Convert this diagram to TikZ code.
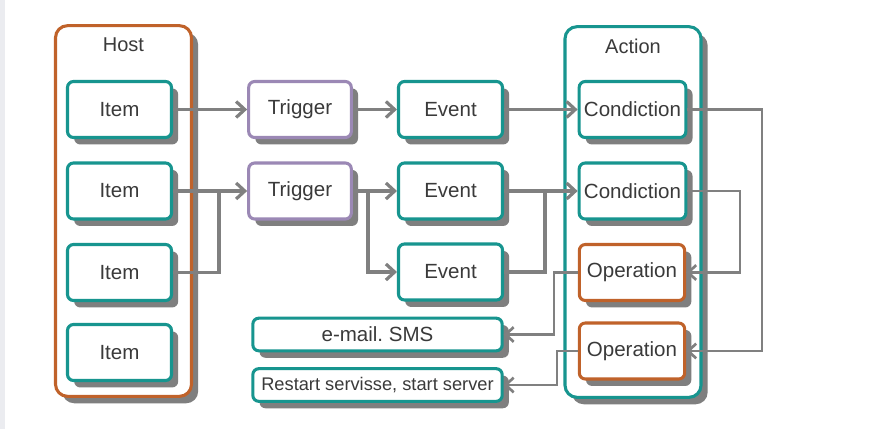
\documentclass[tikz,border=0pt]{standalone}
\usepackage{fontspec}
\setmainfont{Liberation Sans}
\usetikzlibrary{arrows.meta,shadows}
\definecolor{teal1}{HTML}{17958F}
\definecolor{orng}{HTML}{C0622A}
\definecolor{purp}{HTML}{9B88B5}
\definecolor{shd}{HTML}{7F7F7F}
\definecolor{conn}{HTML}{808080}
\definecolor{txt}{HTML}{3A3A3A}
\definecolor{strip}{HTML}{EBECF0}
\frenchspacing
\tikzset{
  box/.style={draw=teal1, line width=2.3pt, fill=white, rounded corners=4.5pt,
    text=txt, font=\fontsize{15.4}{18}\selectfont, inner sep=0pt,
    drop shadow={shadow xshift=5pt, shadow yshift=-5.2pt, fill=shd, opacity=1}},
  tealbox/.style={box, minimum width=78pt, minimum height=42pt},
  trigbox/.style={box, draw=purp, minimum width=77pt, minimum height=42pt},
  opbox/.style={box, draw=orng, minimum width=79pt, minimum height=42pt},
  widebox/.style={box, minimum width=187pt, minimum height=24.5pt},
  container/.style={draw=#1, line width=2.3pt, fill=white, rounded corners=9pt,
    minimum width=102pt, minimum height=278pt, inner sep=0pt,
    drop shadow={shadow xshift=5pt, shadow yshift=-5.2pt, fill=shd, opacity=1}},
  title/.style={text=txt, font=\fontsize{15}{18}\selectfont, inner sep=0pt},
  arr/.style={draw=conn, line width=2.6pt, -{Straight Barb[length=6.5pt, width=12pt, line width=2.4pt]}},
  ln/.style={draw=conn, line width=2.6pt},
  arrthin/.style={draw=conn, line width=2.1pt, -{Straight Barb[length=6pt, width=11pt, line width=2pt]}},
}
\begin{document}
\begin{tikzpicture}[x=0.75pt, y=-0.75pt]
\useasboundingbox (0,0) rectangle (878,429);
\fill[white] (0,0) rectangle (878,429);
\fill[strip] (0,0) rectangle (5,429);

% containers
\node[container=orng] (host) at (123.5,211) {};
\node[container=teal1] (action) at (633,212) {};
\node[title] (hostt) at (123.5,45) {Host};
\node[title] (actiont) at (633,46) {Action};

% items
\node[tealbox] (i1) at (119.5,109.5) {Item};
\node[tealbox] (i2) at (119.5,191) {Item};
\node[tealbox] (i3) at (119.5,272.5) {Item};
\node[tealbox] (i4) at (119.5,352.5) {Item};

% triggers
\node[trigbox] (t1) at (300,109.5) {Trigger};
\node[trigbox] (t2) at (300,191) {Trigger};

% events
\node[tealbox] (e1) at (450.5,109.5) {Event};
\node[tealbox] (e2) at (450.5,191) {Event};
\node[tealbox] (e3) at (450.5,272) {Event};

% outputs
\node[widebox] (mail) at (377.5,334.5) {e-mail. SMS};
\node[widebox, font=\fontsize{13.7}{16}\selectfont] (restart) at (377.5,385) {Restart servisse, start server};

% action content
\node[tealbox, minimum width=80pt] (c1) at (632.5,109.5) {Condiction};
\node[tealbox, minimum width=80pt] (c2) at (632.5,191) {Condiction};
\node[opbox] (o1) at (632,272.5) {Operation};
\node[opbox] (o2) at (632,351) {Operation};

% junction coordinates
\coordinate (j1) at (219,191);
\coordinate (j2) at (368,191);
\coordinate (j3) at (545,191);
\coordinate (k1) at (762,109.5);
\coordinate (k2) at (740,191);
\coordinate (k3) at (554,272.5);
\coordinate (k4) at (557,351);

% connectors
\draw[arr] (i1.east) -- (t1.west);
\draw[arr] (i2.east) -- (t2.west);
\draw[ln] (i3.east) -| (j1);
\draw[arr] (t1.east) -- (e1.west);
\draw[arr] (t2.east) -- (e2.west);
\draw[arr] (j2) |- (e3.west);
\draw[arr] (e1.east) -- (c1.west);
\draw[arr] (e2.east) -- (c2.west);
\draw[ln] (e3.east) -| (j3);
\draw[arrthin] (c1.east) -- (k1) |- (o2.east);
\draw[arrthin] (c2.east) -- (k2) |- (o1.east);
\draw[arrthin] (o1.west) -- (k3) |- (mail.east);
\draw[arrthin] (o2.west) -- (k4) |- (restart.east);
\end{tikzpicture}
\end{document}
